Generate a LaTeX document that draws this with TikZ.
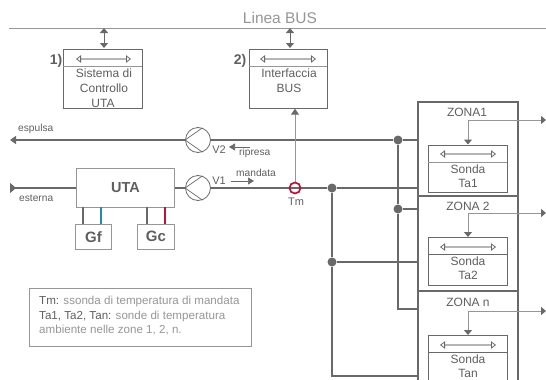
\documentclass[tikz,border=0pt]{standalone}
\usepackage{fontspec}
\setmainfont{Liberation Sans}
\usetikzlibrary{arrows.meta}
\definecolor{linegray}{RGB}{105,105,108}
\definecolor{softgray}{RGB}{150,150,152}
\definecolor{textgray}{RGB}{95,95,98}
\definecolor{coldblue}{RGB}{30,140,180}
\definecolor{hotred}{RGB}{185,20,55}
\tikzset{
  panel/.style={draw=linegray,line width=0.7pt,fill=white,anchor=north west,inner sep=0pt},
  zonebox/.style={draw=linegray,line width=1.5pt,anchor=north west,inner sep=0pt,outer sep=0pt},
  coil/.style={draw=softgray,line width=1pt,fill=white,anchor=north west,inner sep=0pt,text=textgray,font=\fontsize{15}{15}\selectfont\bfseries},
  txt/.style={text=textgray,inner sep=0pt,font=\fontsize{12}{12}\selectfont},
  tag/.style={text=textgray,inner sep=0pt,font=\fontsize{11}{11}\selectfont},
  small/.style={text=textgray,inner sep=0pt,font=\fontsize{10.2}{10.2}\selectfont},
  notetxt/.style={text=softgray,inner sep=0pt,anchor=west,font=\fontsize{11.6}{11.6}\selectfont},
  num/.style={text=textgray,inner sep=0pt,font=\fontsize{14}{14}\selectfont\bfseries},
  duct/.style={draw=linegray,line width=1.4pt},
  dot/.style={circle,fill=linegray,inner sep=0pt,minimum size=9pt},
  fan/.style={circle,draw=linegray,line width=0.8pt,fill=white,inner sep=0pt,minimum size=25pt},
  signal/.style={draw=softgray,line width=1pt,-{Triangle[length=5pt,width=8pt,color=linegray]}},
  bus/.style={draw=linegray,line width=1pt,{Triangle[length=5pt,width=8pt]}-{Triangle[length=5pt,width=8pt]}},
  data/.style={draw=linegray,double=softgray!70,line width=0.8pt,double distance=1.3pt,{Triangle[open,length=5pt,width=7.5pt]}-{Triangle[open,length=5pt,width=7.5pt]}},
  flow/.style={draw=linegray,line width=0.7pt,-{Triangle[length=6pt,width=7pt]}}
}
\begin{document}
\begin{tikzpicture}[x=1pt,y=-1pt]
    \useasboundingbox (0,0) rectangle (546,380);

    % Bus line
    \coordinate (busL) at (9,28);
    \coordinate (busR) at (546,28);
    \draw[draw=softgray,line width=0.8pt] (busL) -- (busR);
    \node[text=softgray,inner sep=0pt,font=\fontsize{15.5}{15.5}\selectfont] (linea) at (280,18) {Linea BUS};

    % Control boxes
    \node[panel,minimum width=79pt,minimum height=59pt] (sistema) at (63,49) {};
    \node[panel,minimum width=78pt,minimum height=59pt] (interfaccia) at (249,49) {};
    \draw[draw=softgray,line width=1pt] (63,66.5) -- (142,66.5);
    \draw[draw=softgray,line width=1pt] (249,66.5) -- (327,66.5);
    \node[txt] (sistema1) at (104,73.5) {Sistema di};
    \node[txt] (sistema2) at (104,88) {Controllo};
    \node[txt] (sistema3) at (103,103) {UTA};
    \node[txt] (interfaccia1) at (289,73.5) {Interfaccia};
    \node[txt] (interfaccia2) at (289,88) {BUS};
    \node[num] (uno) at (56,61) {1)};
    \node[num] (due) at (240,61) {2)};
    \draw[data] (76,59) -- (131,59);
    \draw[data] (260,59) -- (316,59);
    \draw[bus] (104,28) -- (104,48);
    \draw[bus] (290,28) -- (290,48);

    % Zones
    \node[zonebox,minimum width=100pt,minimum height=94pt] (zona1) at (418,102) {};
    \node[zonebox,minimum width=100pt,minimum height=95pt] (zona2) at (418,196) {};
    \draw[linegray,line width=1.5pt] (418,380) |- (518,291) -- (518,380);
    \coordinate (zonanW) at (418,309);
    \coordinate (zonanS) at (418,376);
    \node[txt] (zona1t) at (467,112) {ZONA1};
    \node[txt] (zona2t) at (468,206) {ZONA 2};
    \node[txt] (zonant) at (468,302) {ZONA n};

    % Probes
    \node[panel,minimum width=79pt,minimum height=47pt] (sonda1) at (428,144.5) {};
    \node[panel,minimum width=79pt,minimum height=48pt] (sonda2) at (428,237) {};
    \draw[linegray,line width=0.7pt] (428,380) |- (507,335) -- (507,380);
    \coordinate (sondan) at (468,335);
    \draw[draw=softgray,line width=1pt] (428,162) -- (507,162);
    \draw[linegray,line width=0.7pt] (428,254.5) -- (507,254.5);
    \draw[linegray,line width=0.7pt] (428,352.5) -- (507,352.5);
    \draw[data] (440,154) -- (496,154);
    \draw[data] (440,247) -- (496,247);
    \draw[data] (440,345) -- (496,345);
    \node[txt] (sonda1a) at (468,169) {Sonda};
    \node[txt] (sonda1b) at (468,183) {Ta1};
    \node[txt] (sonda2a) at (468,261) {Sonda};
    \node[txt] (sonda2b) at (468,275) {Ta2};
    \node[txt] (sondana) at (468,359) {Sonda};
    \node[txt] (sondanb) at (468,373) {Tan};

    % Probe signals
    \coordinate (out1) at (546,120);
    \coordinate (out2) at (546,213);
    \coordinate (outn) at (546,311);
    \draw[signal] (468,120) -- (out1);
    \draw[signal] (468,120) -- (sonda1.north -| 468,0);
    \draw[signal] (468,213) -- (out2);
    \draw[signal] (468,213) -- (sonda2.north -| 468,0);
    \draw[signal] (468,311) -- (outn);
    \draw[signal] (468,311) -- (sondan);

    % Unit and coils
    \node[draw=softgray,line width=1pt,fill=white,anchor=north west,inner sep=0pt,minimum width=98pt,minimum height=39pt,text=textgray,font=\fontsize{14.5}{14.5}\selectfont\bfseries] (uta) at (76,168) {UTA};
    \node[coil,minimum width=36pt,minimum height=24.5pt] (gf) at (75,224) {Gf};
    \node[coil,minimum width=37pt,minimum height=24.5pt] (gc) at (137,224) {Gc};
    \draw[linegray,line width=1.3pt] (83,207) -- (83,224);
    \draw[coldblue,line width=1.3pt] (101,207) -- (101,224);
    \draw[linegray,line width=1.3pt] (147,207) -- (147,224);
    \draw[hotred,line width=1.3pt] (165,207) -- (165,224);

    % Fans
    \node[fan] (v2) at (198,140) {};
    \node[fan] (v1) at (198,188) {};
    \draw[linegray,line width=0.7pt] (v2.70) -- (v2.west) -- (v2.-70);
    \draw[linegray,line width=0.7pt] (v1.70) -- (v1.west) -- (v1.-70);

    % Dots
    \node[dot] (nodoA) at (398,140) {};
    \node[dot] (nodoB) at (398,209) {};
    \node[dot] (nodoC) at (332,188) {};
    \node[dot] (nodoD) at (332,262) {};
    \coordinate (tmc) at (295,188);

    % Ducts
    \coordinate (espulsa) at (10,140);
    \coordinate (esterna) at (10,188);
    \draw[duct,-{Triangle[length=6pt,width=8pt]}] (v2) -- (espulsa);
    \draw[duct] (v2) -- (nodoA) -- (zona1.west |- nodoA);
    \draw[duct,{Triangle[reversed,length=6pt,width=10pt]}-] (esterna) -- (uta.west |- esterna);
    \draw[duct] (uta.east |- v1) -- (v1);
    \draw[duct] (v1) -- (tmc) -- (nodoC) -- (zona1.west |- nodoC);
    \draw[duct] (nodoA) -- (nodoB) -- (398,309) -- (zonanW);
    \draw[duct] (nodoB) -- (zona2.west |- nodoB);
    \draw[duct] (nodoC) -- (nodoD) -- (332,376) -- (zonanS);
    \draw[duct] (nodoD) -- (zona2.west |- nodoD);
    \node[circle,draw=hotred,line width=1.7pt,inner sep=0pt,minimum size=11pt] (tm) at (tmc) {};
    \draw[draw=softgray,line width=1pt,-{Triangle[length=6pt,width=8pt,color=linegray]}] (tm) -- (interfaccia.south -| tm);

    % Flow labels
    \node[small,anchor=west] (espulsat) at (18,129) {espulsa};
    \node[small,anchor=west] (esternat) at (19,198) {esterna};
    \node[small,anchor=west] (ripresat) at (239,153) {ripresa};
    \node[small,anchor=west] (mandatat) at (236,173) {mandata};
    \node[tag] (v2t) at (219,149.5) {V2};
    \node[tag] (v1t) at (219,181) {V1};
    \node[tag] (tmt) at (296,201.5) {Tm};
    \coordinate (ripA) at (250,147);
    \coordinate (ripB) at (229,147);
    \coordinate (manA) at (231,181);
    \coordinate (manB) at (254,181);
    \draw[flow] (ripA) -- (ripB);
    \draw[flow] (manA) -- (manB);

    % Note
    \node[draw=softgray,line width=1pt,anchor=north west,inner sep=0pt,minimum width=222pt,minimum height=58pt] (nota) at (29,288) {};
    \node[notetxt] (nota1) at (39,301) {\textcolor{textgray}{Tm:} ssonda di temperatura di mandata};
    \node[notetxt] (nota2) at (39,316) {\textcolor{textgray}{Ta1, Ta2, Tan:} sonde di temperatura};
    \node[notetxt] (nota3) at (39,330) {ambiente nelle zone 1, 2, n.};
\end{tikzpicture}
\end{document}
